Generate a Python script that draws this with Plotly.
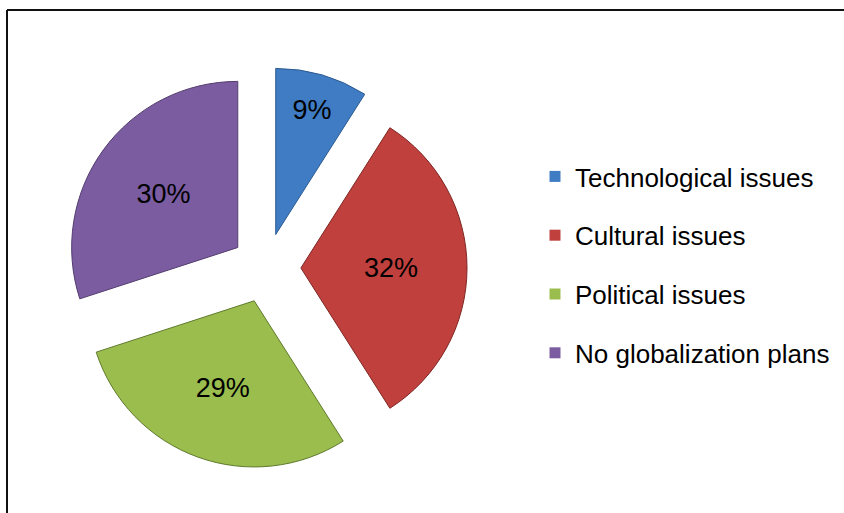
"""Exploded pie of globalization obstacles, redrawn with Plotly."""

import plotly.graph_objects as go

labels = ["Technological issues", "Cultural issues", "Political issues", "No globalization plans"]
shares = [9, 32, 29, 30]
colors = ["#3F7CC4", "#C0403D", "#9ABD4E", "#7B5CA0"]
edges = ["#2C5A91", "#7E2623", "#5F7A2C", "#523C6E"]

FONT = "Liberation Sans, Arial, sans-serif"
W, H = 844, 513

fig = go.Figure()
fig.add_trace(
    go.Pie(
        labels=labels,
        values=shares,
        sort=False,
        direction="clockwise",
        rotation=0,
        pull=[0.21] * len(shares),
        marker=dict(colors=colors, line=dict(color=edges, width=1)),
        textinfo="percent",
        textposition="inside",
        insidetextorientation="horizontal",
        insidetextfont=dict(family=FONT, size=27, color="black"),
        showlegend=False,
        hoverinfo="label+percent",
        domain=dict(x=[63 / W, 469 / W], y=[1 - 469 / H, 1 - 67 / H]),
    )
)

# legend entries as separate groups so the rows can be spread out
for name, col in zip(labels, colors):
    fig.add_trace(
        go.Scatter(
            x=[None],
            y=[None],
            mode="markers",
            name=name,
            legendgroup=name,
            marker=dict(symbol="square", size=11, color=col),
        )
    )

fig.update_layout(
    width=W,
    height=H,
    margin=dict(l=0, r=0, t=0, b=0),
    paper_bgcolor="white",
    plot_bgcolor="white",
    font=dict(family=FONT, color="black"),
    xaxis=dict(visible=False),
    yaxis=dict(visible=False),
    legend=dict(
        x=535 / W,
        y=1 - 153 / H,
        xanchor="left",
        yanchor="top",
        font=dict(family=FONT, size=26, color="black"),
        tracegroupgap=22,
        bgcolor="rgba(0,0,0,0)",
    ),
    shapes=[
        dict(type="line", xref="paper", yref="paper",
             x0=7 / W, x1=1, y0=1 - 10 / H, y1=1 - 10 / H,
             line=dict(color="#111", width=2)),
        dict(type="line", xref="paper", yref="paper",
             x0=7 / W, x1=7 / W, y0=0, y1=1 - 10 / H,
             line=dict(color="#111", width=2)),
    ],
)

fig.write_html(
    "out.html",
    config={"displayModeBar": False},
    post_script="document.body.style.margin='0';document.body.style.overflow='hidden';",
)
